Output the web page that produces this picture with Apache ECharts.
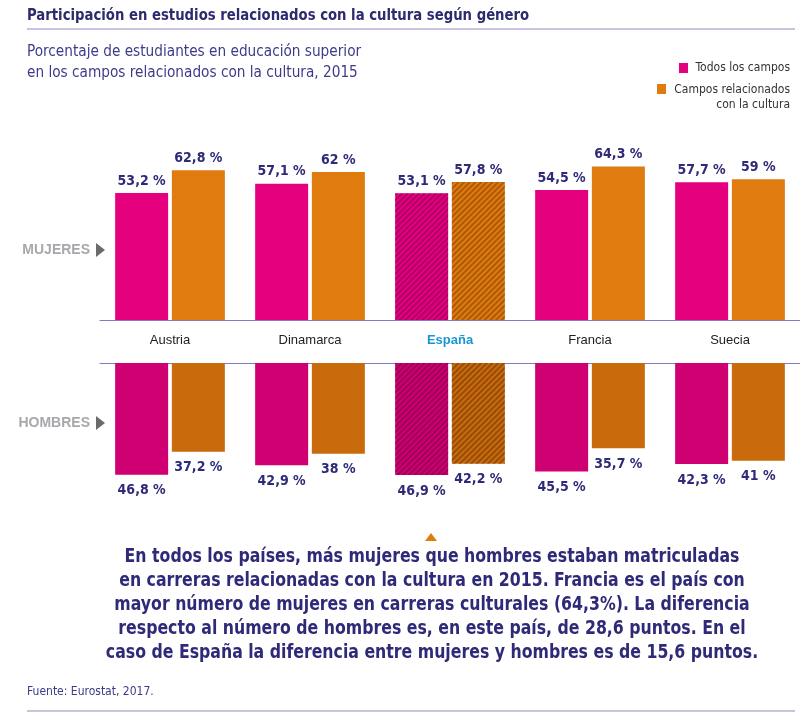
<!DOCTYPE html>
<html>
<head>
<meta charset="utf-8">
<title>Participación en estudios relacionados con la cultura</title>
<script src="https://cdn.jsdelivr.net/npm/echarts@6.0.0/dist/echarts.min.js"></script>
<style>
  html, body { margin: 0; padding: 0; background: #fff; }
  #chart { width: 800px; height: 715px; }
</style>
</head>
<body>
<div id="chart"></div>
<script>
var paises = ['Austria', 'Dinamarca', 'España', 'Francia', 'Suecia'];
var mujeresTodos = [53.2, 57.1, 53.1, 54.5, 57.7];
var mujeresCultura = [62.8, 62, 57.8, 64.3, 59];
var hombresTodos = [46.8, 42.9, 46.9, 45.5, 42.3];
var hombresCultura = [37.2, 38, 42.2, 35.7, 41];

var NARROW = '"DejaVu Sans Condensed", "Liberation Sans Narrow", sans-serif';
var navy = '#2e2a78';
var axisColor = '#8079c6';

var chart = echarts.init(document.getElementById('chart'));

function pct(p) {
  return String(p.value).replace('.', ',') + ' %';
}

// España va rayada
function conRayas(values, color, rayas) {
  return values.map(function (v, i) {
    if (paises[i] !== 'España') return v;
    return {
      value: v,
      itemStyle: {
        color: color,
        decal: {
          symbol: 'rect',
          dashArrayX: [1, 0],
          dashArrayY: [1.5, 1.5],
          rotation: -Math.PI / 4,
          color: rayas
        }
      }
    };
  });
}

function serie(name, data, color, rayas, idx, pos) {
  return {
    name: name,
    type: 'bar',
    xAxisIndex: idx,
    yAxisIndex: idx,
    barWidth: 53,
    barGap: '7%',
    itemStyle: { color: color },
    data: conRayas(data, color, rayas),
    label: {
      show: true,
      position: pos,
      distance: pos === 'top' ? 5 : 9,
      formatter: pct,
      color: navy,
      fontFamily: NARROW,
      fontWeight: 'bold',
      fontSize: 14
    },
    silent: true
  };
}

var option = {
  animation: false,
  grid: [
    { left: 100, width: 700, top: 153, height: 167 },
    { left: 100, width: 700, top: 363, height: 167 }
  ],
  xAxis: [
    {
      type: 'category', gridIndex: 0, data: paises, position: 'bottom',
      axisLine: { lineStyle: { color: axisColor, width: 1 } },
      axisTick: { show: false },
      axisLabel: {
        margin: 14,
        fontSize: 13,
        color: '#222',
        fontFamily: 'Liberation Sans, Arial, sans-serif',
        formatter: function (v) { return v === 'España' ? '{es|' + v + '}' : v; },
        rich: { es: { color: '#1a96d4', fontWeight: 'bold', fontSize: 13 } }
      }
    },
    {
      type: 'category', gridIndex: 1, data: paises, position: 'top',
      axisLine: { lineStyle: { color: axisColor, width: 1 } },
      axisTick: { show: false },
      axisLabel: { show: false }
    }
  ],
  yAxis: [
    { type: 'value', gridIndex: 0, min: 0, max: 70, show: false },
    { type: 'value', gridIndex: 1, min: 0, max: 70, show: false, inverse: true }
  ],
  series: [
    serie('Todos los campos', mujeresTodos, '#e5007e', 'rgba(110,0,70,0.45)', 0, 'top'),
    serie('Campos relacionados con la cultura', mujeresCultura, '#e07b10', 'rgba(120,55,0,0.5)', 0, 'top'),
    serie('Todos los campos', hombresTodos, '#cf0072', 'rgba(100,0,60,0.45)', 1, 'bottom'),
    serie('Campos relacionados con la cultura', hombresCultura, '#c96b0c', 'rgba(100,45,0,0.5)', 1, 'bottom')
  ],
  graphic: [
    { type: 'text', x: 27, y: 8, scaleX: 0.92, style: { text: 'Participación en estudios relacionados con la cultura según género', font: 'bold 16px ' + NARROW, fill: '#2d2a6e' } },
    { type: 'line', shape: { x1: 27, y1: 29, x2: 795, y2: 29 }, style: { stroke: '#c9c5e0', lineWidth: 2 } },
    { type: 'text', x: 27, y: 41, scaleX: 0.95, style: { text: 'Porcentaje de estudiantes en educación superior\nen los campos relacionados con la cultura, 2015', font: '16px ' + NARROW, lineHeight: 21, fill: '#3d3a8a' } },

    { type: 'rect', shape: { x: 679, y: 63, width: 9, height: 10 }, style: { fill: '#e5007e' } },
    { type: 'text', x: 790, y: 68, style: { text: 'Todos los campos', font: '12px ' + NARROW, fill: '#333', align: 'right', verticalAlign: 'middle' } },
    { type: 'rect', shape: { x: 657, y: 84, width: 9, height: 10 }, style: { fill: '#e07b10' } },
    { type: 'text', x: 790, y: 82, style: { text: 'Campos relacionados\ncon la cultura', font: '12px ' + NARROW, lineHeight: 15, fill: '#333', align: 'right', verticalAlign: 'top' } },

    { type: 'text', x: 90, y: 250, style: { text: 'MUJERES', font: 'bold 14px "Liberation Sans", Arial, sans-serif', fill: '#a9a7ab', align: 'right', verticalAlign: 'middle' } },
    { type: 'polygon', shape: { points: [[96, 243], [96, 257], [105, 250]] }, style: { fill: '#6b696d' } },
    { type: 'text', x: 90, y: 423, style: { text: 'HOMBRES', font: 'bold 14px "Liberation Sans", Arial, sans-serif', fill: '#a9a7ab', align: 'right', verticalAlign: 'middle' } },
    { type: 'polygon', shape: { points: [[96, 416], [96, 430], [105, 423]] }, style: { fill: '#6b696d' } },

    { type: 'polygon', shape: { points: [[425, 541], [437, 541], [431, 533]] }, style: { fill: '#e07b10' } },
    { type: 'text', x: 432, y: 545, scaleX: 0.875, style: {
      text: 'En todos los países, más mujeres que hombres estaban matriculadas\nen carreras relacionadas con la cultura en 2015. Francia es el país con\nmayor número de mujeres en carreras culturales (64,3%). La diferencia\nrespecto al número de hombres es, en este país, de 28,6 puntos. En el\ncaso de España la diferencia entre mujeres y hombres es de 15,6 puntos.',
      font: 'bold 20px ' + NARROW, lineHeight: 24, fill: navy, align: 'center', verticalAlign: 'top' } },

    { type: 'text', x: 27, y: 686, style: { text: 'Fuente: Eurostat, 2017.', font: '12px ' + NARROW, fill: '#3d3a8a' } },
    { type: 'line', shape: { x1: 27, y1: 711, x2: 795, y2: 711 }, style: { stroke: '#c9c5e0', lineWidth: 2 } }
  ]
};

chart.setOption(option);
</script>
</body>
</html>
